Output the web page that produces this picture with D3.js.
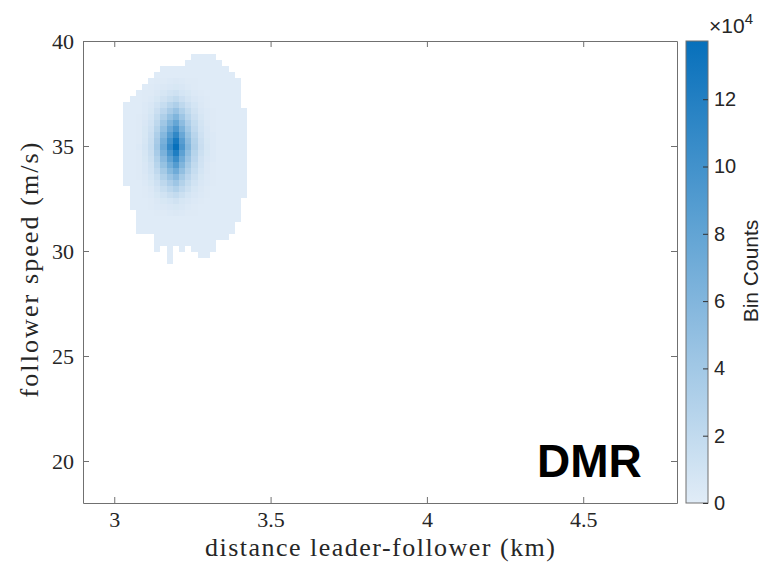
<!DOCTYPE html>
<html>
<head>
<meta charset="utf-8">
<title>DMR</title>
<script src="https://cdn.jsdelivr.net/npm/d3@7"></script>
<style>
  body { margin: 0; background: #fff; }
  svg { display: block; }
</style>
</head>
<body>
<script>
// axis ranges and ticks
var xDomain = [2.9, 4.8];
var yDomain = [18, 40];
var xTicks = [3, 3.5, 4, 4.5];
var yTicks = [20, 25, 30, 35, 40];
var cbTicks = [0, 20, 40, 60, 80, 100, 120];   // thousands -> labels x10^4
var cbMax = 137.3;                              // thousands

// 2D histogram bins
var xBinStart = 3.029, xBinWidth = 0.0198;     // km
var yBinTop = 39.38, yBinHeight = 0.2857;      // m/s

// first bin column of each row (top row first)
var rowStart = [11, 10, 6, 5, 4, 3, 2, 1, 0, 0, 0, 0, 0, 0, 0, 0, 0, 0, 0, 0, 0, 0,
  1, 1, 1, 1, 2, 2, 2, 2, 5, 5, 5, 7, 7];

// bin counts in thousands (top row first)
var rowCounts = [
  [1,1,1,1],
  [1,1,1,1,1,1],
  [1,1,1,1,1,1,1,1,1,1,1],
  [1,1,1,1,1,1,1,1,1,1,1,1,1],
  [1,2,2,3,4,3,2,2,1,1,1,1,1,1,1],
  [1,2,3,4,5,6,5,3,2,1,1,1,1,1,1,1],
  [1,2,2,4,7,10,12,8,6,3,2,1,1,1,1,1,1],
  [1,1,2,3,6,11,16,20,14,9,5,3,2,1,1,1,1,1],
  [1,1,1,3,5,10,17,26,32,22,14,8,4,2,1,1,1,1,1],
  [1,1,1,3,6,14,24,36,46,32,20,11,5,3,2,1,1,1,1,1],
  [1,1,2,4,8,18,32,48,61,42,26,14,7,3,2,1,1,1,1,1],
  [1,1,2,5,10,22,41,61,78,53,33,18,9,4,2,1,1,1,1,1],
  [1,1,2,6,12,27,49,74,94,64,40,21,10,5,2,1,1,1,1,1],
  [1,1,2,6,14,32,58,86,111,76,47,25,12,5,3,1,1,1,1,1],
  [1,1,2,7,16,36,66,99,127,87,54,29,14,6,3,1,1,1,1,1],
  [1,1,3,8,17,39,72,108,137,94,59,31,15,7,3,1,1,1,1,1],
  [1,1,2,7,15,35,64,95,122,83,52,27,13,6,3,1,1,1,1,1],
  [1,1,2,6,13,30,55,82,105,72,45,24,11,5,3,1,1,1,1,1],
  [1,1,2,5,11,26,47,69,89,61,38,20,10,4,2,1,1,1,1,1],
  [1,1,2,5,10,21,38,57,72,50,31,17,8,4,2,1,1,1,1,1],
  [1,1,2,4,8,16,30,44,56,38,24,13,6,3,2,1,1,1,1,1],
  [1,1,1,3,6,12,22,33,42,29,18,10,5,3,2,1,1,1,1,1],
  [1,1,2,4,9,16,23,30,21,13,7,4,2,1,1,1,1,1,1],
  [1,1,2,3,6,10,15,19,13,8,5,3,2,1,1,1,1,1,1],
  [1,1,1,2,4,6,8,11,7,5,3,2,1,1,1,1,1,1],
  [1,1,1,2,3,4,5,6,5,3,2,1,1,1,1,1,1,1],
  [1,1,1,2,2,3,4,3,2,2,1,1,1,1,1,1,1],
  [1,1,1,1,1,1,1,1,1,1,1,1,1,1,1,1,1],
  [1,1,1,1,1,1,1,1,1,1,1,1,1,1,1,1],
  [1,1,1,1,1,1,1,1,1,1,1,1,1,1,1,1],
  [1,1,1,1,1,1,1,1,1,1,1,1],
  [1,1,1,1,1,1,1,1,1,1],
  [1,0,1,0,1,0,1,1,1,1],
  [1,0,0,0,0,1,1],
  [1]
];

var W = 763, H = 574;
var svg = d3.select("body").append("svg")
  .attr("width", W)
  .attr("height", H);

var x = d3.scaleLinear().domain(xDomain).range([83, 677]);
var y = d3.scaleLinear().domain(yDomain).range([503, 41]);
var color = d3.scaleLinear().domain([0, cbMax]).range(["#e1ecf7", "#0770bb"]);

// flatten bins
var cells = [];
rowCounts.forEach(function(row, r) {
  var top = yBinTop - r * yBinHeight;
  row.forEach(function(v, i) {
    if (v <= 0) return;
    var c = rowStart[r] + i;
    var x0 = xBinStart + c * xBinWidth;
    cells.push({x0: x0, x1: x0 + xBinWidth, y0: top, y1: top - yBinHeight, v: v});
  });
});

svg.append("g").selectAll("rect")
  .data(cells)
  .enter()
  .append("rect")
  .attr("x", function(d) { return x(d.x0); })
  .attr("y", function(d) { return y(d.y0); })
  .attr("width", function(d) { return x(d.x1) - x(d.x0); })
  .attr("height", function(d) { return y(d.y1) - y(d.y0); })
  .attr("fill", function(d) { return color(d.v); })
  .attr("shape-rendering", "crispEdges");

// axes box with inward ticks on all sides
var axisColor = "#707070", textColor = "#262626";
var serif = "'Liberation Serif', 'Times New Roman', serif";

function styleAxis(g) {
  g.attr("font-family", serif).attr("font-size", 22);
  g.selectAll(".domain").attr("stroke", axisColor);
  g.selectAll(".tick line").attr("stroke", axisColor);
  g.selectAll(".tick text")
    .attr("fill", textColor)
    .style("font-family", serif)
    .style("font-size", "22px");
}

svg.append("g").attr("transform", "translate(0,503)")
  .call(d3.axisBottom(x).tickValues(xTicks).tickSize(-6).tickSizeOuter(0).tickPadding(8)
    .tickFormat(d3.format("")))
  .call(styleAxis);
svg.append("g").attr("transform", "translate(0,41)")
  .call(d3.axisTop(x).tickValues(xTicks).tickSize(-6).tickSizeOuter(0).tickFormat(""))
  .call(styleAxis);
svg.append("g").attr("transform", "translate(83,0)")
  .call(d3.axisLeft(y).tickValues(yTicks).tickSize(-6).tickSizeOuter(0).tickPadding(9))
  .call(styleAxis);
svg.append("g").attr("transform", "translate(677,0)")
  .call(d3.axisRight(y).tickValues(yTicks).tickSize(-6).tickSizeOuter(0).tickFormat(""))
  .call(styleAxis);

// axis labels
svg.append("text")
  .attr("x", 380)
  .attr("y", 556)
  .attr("text-anchor", "middle")
  .attr("textLength", 350)
  .attr("lengthAdjust", "spacing")
  .attr("fill", textColor)
  .style("font-family", serif)
  .style("font-size", "26px")
  .text("distance leader-follower (km)");

svg.append("text")
  .attr("transform", "translate(38,270) rotate(-90)")
  .attr("text-anchor", "middle")
  .attr("textLength", 255)
  .attr("lengthAdjust", "spacing")
  .attr("fill", textColor)
  .style("font-family", serif)
  .style("font-size", "26px")
  .text("follower speed (m/s)");

// DMR tag
svg.append("text")
  .attr("x", 537)
  .attr("y", 477)
  .attr("fill", "#000")
  .style("font-family", "'Liberation Sans', Arial, sans-serif")
  .style("font-weight", "bold")
  .style("font-size", "46px")
  .text("DMR");

// colorbar
var cb = d3.scaleLinear().domain([0, cbMax]).range([503, 41]);
var defs = svg.append("defs");
var grad = defs.append("linearGradient")
  .attr("id", "cbgrad")
  .attr("x1", 0).attr("y1", 1).attr("x2", 0).attr("y2", 0);
d3.range(0, 1.0001, 0.1).forEach(function(t) {
  grad.append("stop")
    .attr("offset", t)
    .attr("stop-color", color(t * cbMax));
});

svg.append("rect")
  .attr("x", 686)
  .attr("y", cb(cbMax))
  .attr("width", 22)
  .attr("height", cb(0) - cb(cbMax))
  .attr("fill", "url(#cbgrad)")
  .attr("stroke", axisColor)
  .attr("stroke-width", 1);

var sans = "'Liberation Sans', Arial, sans-serif";
var cbAxis = svg.append("g").attr("transform", "translate(708,0)")
  .call(d3.axisRight(cb).tickValues(cbTicks).tickSize(-5).tickSizeOuter(0).tickPadding(6)
    .tickFormat(function(d) { return d / 10; }));
cbAxis.select(".domain").remove();
cbAxis.selectAll(".tick line").attr("stroke", "#333");
cbAxis.selectAll(".tick text")
  .attr("fill", textColor)
  .style("font-family", sans)
  .style("font-size", "20px");

var expo = svg.append("text")
  .attr("x", 709)
  .attr("y", 33)
  .attr("fill", textColor)
  .style("font-family", sans)
  .style("font-size", "21px");
expo.append("tspan").text("\u00d710");
expo.append("tspan").attr("dy", -9).style("font-size", "15px").text("4");

svg.append("text")
  .attr("transform", "translate(758,271) rotate(-90)")
  .attr("text-anchor", "middle")
  .attr("fill", textColor)
  .style("font-family", sans)
  .style("font-size", "21px")
  .text("Bin Counts");
</script>
</body>
</html>
